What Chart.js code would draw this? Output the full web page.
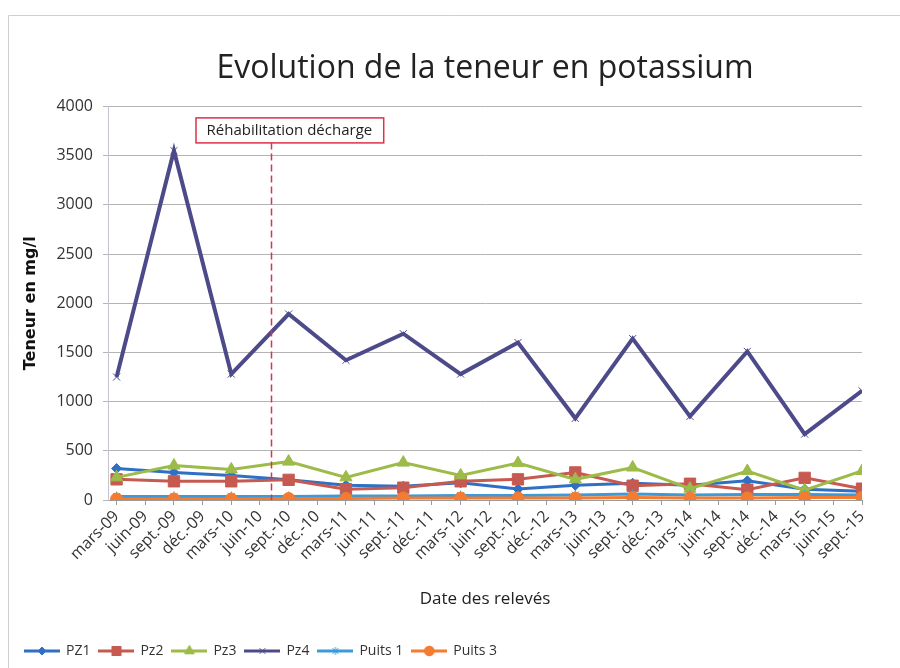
<!DOCTYPE html>
<html>
<head>
<meta charset="utf-8">
<script src="https://cdn.jsdelivr.net/npm/chart.js@4/dist/chart.umd.min.js"></script>
<style>
  html, body { margin: 0; padding: 0; background: #ffffff; }
  #wrap { width: 900px; height: 668px; position: relative; }
</style>
</head>
<body>
<div id="wrap"><canvas id="c" width="900" height="668"></canvas></div>
<script>
// ---- data ----
const categories = ['mars-09','juin-09','sept.-09','déc.-09','mars-10','juin-10','sept.-10','déc.-10',
  'mars-11','juin-11','sept.-11','déc.-11','mars-12','juin-12','sept.-12','déc.-12','mars-13','juin-13',
  'sept.-13','déc.-13','mars-14','juin-14','sept.-14','déc.-14','mars-15','juin-15','sept.-15'];
const sampleDates = ['mars-09','sept.-09','mars-10','sept.-10','mars-11','sept.-11','mars-12',
  'sept.-12','mars-13','sept.-13','mars-14','sept.-14','mars-15','sept.-15'];
const pz1    = [320, 280, 250, 205, 150, 140, 175, 112, 150, 170, 150, 195, 110, 90];
const pz2    = [210, 190, 190, 205, 110, 125, 190, 210, 280, 145, 165, 105, 225, 115];
const pz3    = [230, 350, 310, 390, 230, 380, 250, 375, 210, 330, 115, 295, 100, 295];
const pz4    = [1250, 3550, 1280, 1890, 1420, 1690, 1280, 1600, 830, 1640, 850, 1510, 670, 1110];
const puits1 = [35, 35, 35, 35, 40, 40, 45, 45, 50, 60, 50, 55, 55, 50];
const puits3 = [10, 10, 10, 15, 15, 20, 20, 20, 20, 25, 20, 20, 25, 25];
const yTicks = [0, 500, 1000, 1500, 2000, 2500, 3000, 3500, 4000];
const titleText = 'Evolution de la teneur en potassium';
const yTitle = 'Teneur en mg/l';
const xTitle = 'Date des relevés';
const annotationText = 'Réhabilitation décharge';
const annotationAt = 5.37; // position on the date axis (between juin-10 and sept-10)

// ---- helpers ----
function toPoints(values) {
  return values.map((v, i) => ({ x: categories.indexOf(sampleDates[i]), y: v }));
}
function legendIcon(color, style, radius) {
  const c = document.createElement('canvas');
  c.width = 36; c.height = 16;
  const ctx = c.getContext('2d');
  ctx.strokeStyle = color; ctx.fillStyle = color; ctx.lineWidth = 3;
  ctx.beginPath(); ctx.moveTo(0, 8); ctx.lineTo(36, 8); ctx.stroke();
  ctx.lineWidth = 1;
  Chart.helpers.drawPoint(ctx, { pointStyle: style, radius: radius, borderWidth: 1, rotation: 0 }, 18, 8);
  ctx.fill();
  return c;
}

const FONT = "'Open Sans', 'DejaVu Sans', sans-serif";

const seriesDefs = [
  { label: 'PZ1',     data: pz1,    color: '#2f6fc4', style: 'rectRot',  r: 5, order: 6, lw: 3 },
  { label: 'Pz2',     data: pz2,    color: '#c65a50', style: 'rect',     r: 8, order: 5, lw: 3 },
  { label: 'Pz3',     data: pz3,    color: '#9cbb48', style: 'triangle', r: 7, order: 4, lw: 3 },
  { label: 'Pz4',     data: pz4,    color: '#4d4a8a', style: 'crossRot', r: 5, order: 3, lw: 4 },
  { label: 'Puits 1', data: puits1, color: '#3b9bda', style: 'star',     r: 5, order: 2, lw: 3 },
  { label: 'Puits 3', data: puits3, color: '#f47b30', style: 'circle',   r: 6, order: 1, lw: 3 }
];

const datasets = seriesDefs.map(s => ({
  label: s.label,
  data: toPoints(s.data),
  borderColor: s.color,
  backgroundColor: s.color,
  borderWidth: s.lw,
  pointStyle: s.style,
  pointRadius: s.r,
  pointBorderWidth: 1,
  pointBorderColor: s.color,
  pointBackgroundColor: s.color,
  tension: 0,
  order: s.order,
  spanGaps: true
}));

const framePlugin = {
  id: 'frame',
  beforeDraw(chart) {
    const ctx = chart.ctx;
    ctx.save();
    ctx.fillStyle = '#ffffff';
    ctx.fillRect(0, 0, chart.width, chart.height);
    ctx.strokeStyle = '#cfcfcf';
    ctx.lineWidth = 1;
    ctx.beginPath();
    ctx.moveTo(8.5, chart.height); ctx.lineTo(8.5, 15.5); ctx.lineTo(chart.width, 15.5);
    ctx.stroke();
    ctx.restore();
  }
};

const annotationPlugin = {
  id: 'rehab',
  afterDatasetsDraw(chart) {
    const ctx = chart.ctx;
    const xs = chart.scales.x, ys = chart.scales.y;
    const lx = Math.round(xs.getPixelForValue(annotationAt)) + 0.5;
    const top = chart.chartArea.top;
    const boxTop = top + 11, boxH = 25;
    ctx.save();
    ctx.font = "15px " + FONT;
    const tw = ctx.measureText(annotationText).width;
    const boxW = tw + 22;
    const boxL = lx - 76;
    ctx.strokeStyle = '#e0304a';
    ctx.lineWidth = 1.5;
    ctx.setLineDash([7, 4]);
    ctx.beginPath();
    ctx.moveTo(lx, boxTop + boxH);
    ctx.lineTo(lx, ys.getPixelForValue(0));
    ctx.stroke();
    ctx.setLineDash([]);
    ctx.fillStyle = '#ffffff';
    ctx.fillRect(boxL, boxTop, boxW, boxH);
    ctx.lineWidth = 1.5;
    ctx.strokeRect(boxL + 0.5, boxTop + 0.5, boxW, boxH);
    ctx.fillStyle = '#222222';
    ctx.textBaseline = 'middle';
    ctx.textAlign = 'center';
    ctx.fillText(annotationText, boxL + boxW / 2, boxTop + boxH / 2 + 1);
    ctx.restore();
  }
};

const iconMap = {};
seriesDefs.forEach(s => { iconMap[s.label] = legendIcon(s.color, s.style, s.r * 0.8); });

new Chart(document.getElementById('c'), {
  type: 'line',
  data: { datasets },
  plugins: [framePlugin, annotationPlugin],
  options: {
    responsive: false,
    animation: false,
    layout: { padding: { left: 16, right: 38, top: 0, bottom: 0 } },
    plugins: {
      title: {
        display: true,
        fullSize: false,
        text: titleText,
        color: '#222222',
        font: { family: FONT, size: 32, weight: 'normal' },
        padding: { top: 50, bottom: 18 }
      },
      legend: {
        display: true,
        position: 'bottom',
        align: 'start',
        labels: {
          usePointStyle: true,
          pointStyleWidth: 34,
          boxHeight: 14,
          color: '#333333',
          font: { family: FONT, size: 14 },
          padding: 9,
          sort: (a, b) => a.datasetIndex - b.datasetIndex,
          generateLabels(chart) {
            const items = Chart.defaults.plugins.legend.labels.generateLabels(chart);
            items.forEach(it => { it.pointStyle = iconMap[it.text]; it.rotation = 0; });
            return items;
          }
        }
      },
      tooltip: { enabled: false }
    },
    scales: {
      x: {
        type: 'linear',
        min: -0.3,
        max: categories.length - 1,
        afterBuildTicks(scale) {
          scale.ticks = categories.map((_, i) => ({ value: i }));
        },
        afterFit(scale) { scale.height = 135; },
        ticks: {
          autoSkip: false,
          minRotation: 45,
          maxRotation: 45,
          color: '#333333',
          font: { family: FONT, size: 16 },
          padding: 2,
          callback: (v) => categories[v]
        },
        grid: { drawOnChartArea: false, drawTicks: true, tickLength: 5, color: '#9a9a9a' },
        border: { display: true, color: '#9a9a9a' },
        title: {
          display: true,
          text: xTitle,
          color: '#222222',
          font: { family: FONT, size: 17 },
          padding: { top: 6, bottom: 26 }
        }
      },
      y: {
        min: 0,
        max: 4000,
        afterBuildTicks(scale) {
          scale.ticks = yTicks.map(v => ({ value: v }));
        },
        afterFit(scale) { scale.width = 92; },
        ticks: {
          color: '#333333',
          font: { family: FONT, size: 16 },
          padding: 10,
          callback: (v) => String(v)
        },
        grid: { color: '#b4b4b4', drawTicks: true, tickLength: 5 },
        border: { display: true, color: '#c4c4d4' },
        title: {
          display: true,
          text: yTitle,
          color: '#111111',
          font: { family: "'DejaVu Sans', sans-serif", size: 16, weight: 'bold' },
          padding: { top: 5, bottom: 0 }
        }
      }
    }
  }
});
</script>
</body>
</html>
